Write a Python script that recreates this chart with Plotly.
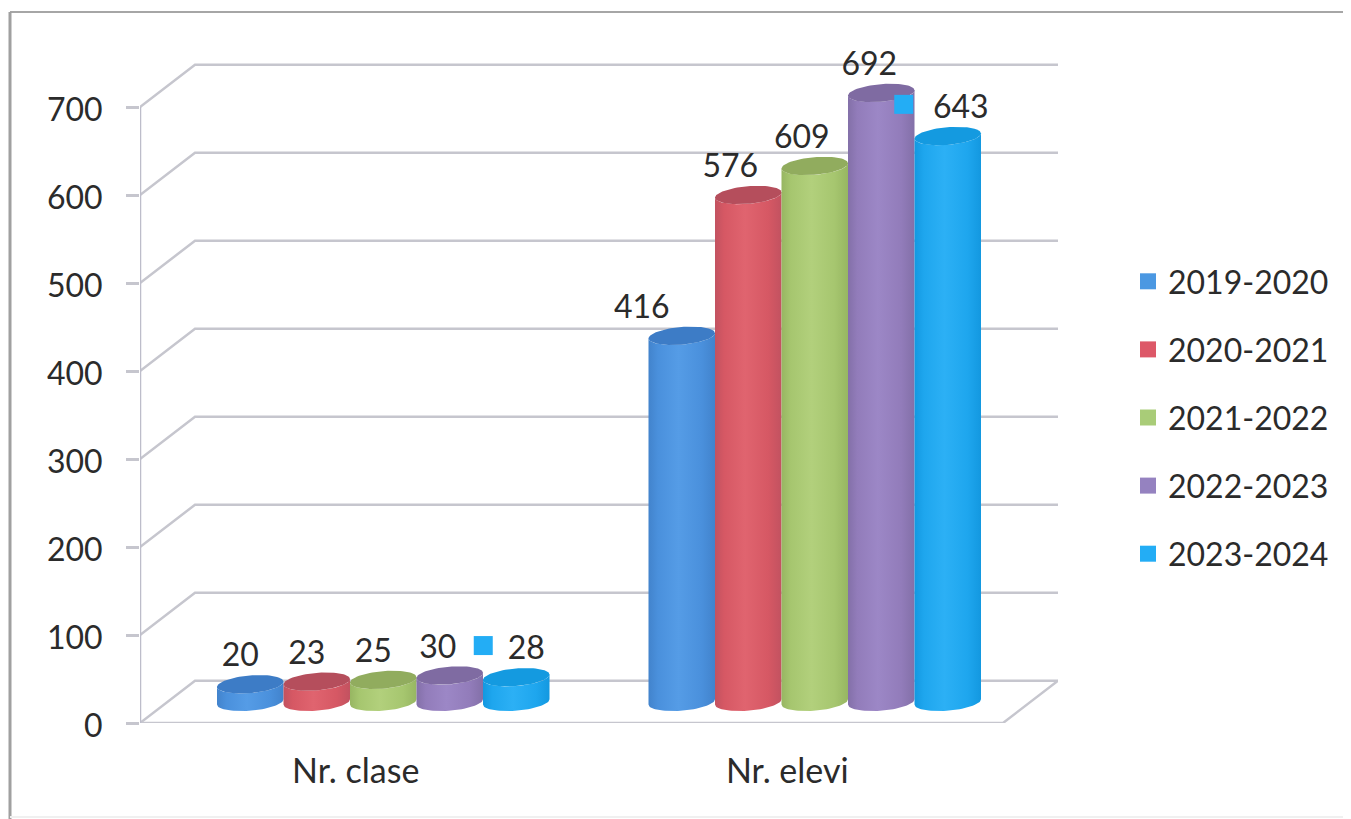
import numpy as np
import plotly.graph_objects as go

# ---------- data ----------
categories = ["Nr. clase", "Nr. elevi"]
series_names = ["2019-2020", "2020-2021", "2021-2022", "2022-2023", "2023-2024"]
values_2019_2020 = [20, 416]
values_2020_2021 = [23, 576]
values_2021_2022 = [25, 609]
values_2022_2023 = [30, 692]
values_2023_2024 = [28, 643]
y_ticks = [0, 100, 200, 300, 400, 500, 600, 700]

all_values = [values_2019_2020, values_2020_2021, values_2021_2022, values_2022_2023, values_2023_2024]

# ---------- style ----------
PAGE_W, PAGE_H = 1351, 819
OFF = 8                        # the page's body margin
W, H = PAGE_W - OFF, PAGE_H - OFF
ML, MR, MT, MB = 140 - OFF, 293, 63 - OFF, 96
PLOT_W, PLOT_H = W - ML - MR, H - MT - MB
PX_PER_CAT = 431.5
PX_PER_VAL = 0.88
DX = 55 / PX_PER_CAT          # depth of the pseudo-3D box, category units
DY = 48                        # depth, value units
BAR_W = 66.5 / PX_PER_CAT
RY = 10.0                      # ellipse half height, value units
TILT = 3.0                     # ellipse tilt, value units
LABEL_RISE = 53.5
FONT = "Lato, 'Open Sans', sans-serif"
TXT = "#2b2b2b"
GRID = "#c6c6ce"
AXIS = "#bdbdca"

dark = ["#4283cc", "#c25260", "#97b662", "#8370a8", "#1398e0"]
side = ["#4a90dc", "#d65864", "#a6c66f", "#927cba", "#1ea6ee"]
light = ["#559ce6", "#e0646f", "#b2d07c", "#9c87c6", "#2cb0f5"]
top = ["#3d7cc6", "#b54e5c", "#91ac5e", "#7f6ba2", "#149ae0"]
legend_col = ["#4b98e2", "#dd5868", "#a9cc78", "#9582c0", "#23adf5"]

# label x offsets from the bar centre, pixels [category][series]
label_dx_px = [[-10, -10, -10, -12, 10], [-40, -18, -13, -12, 13]]
# stray legend keys beside the last series' labels
stray_dx_px = [-33, -44]

fig = go.Figure()


def line(xs, ys, color=GRID, width=2.5):
    fig.add_trace(go.Scatter(x=xs, y=ys, mode="lines", line=dict(color=color, width=width),
                             showlegend=False, hoverinfo="skip"))


# walls and floor
x_end = len(categories)
for v in y_ticks:
    line([0, DX, x_end + DX], [v, v + DY, v + DY])
line([0, x_end, x_end + DX], [0, 0, DY])
line([0, 0], [0, y_ticks[-1]], AXIS, 2.5)
line([x_end, x_end], [0, -9], AXIS, 2)
line([0, 0], [0, -9], AXIS, 2)
line([1, 1], [0, -9], AXIS, 2)

# cylinders
theta_bottom = np.linspace(np.pi, 2 * np.pi, 40)
theta_top = np.linspace(0, np.pi, 40)
theta_full = np.linspace(0, 2 * np.pi, 80)
base_v = DY / 2
centre_off = (np.arange(len(series_names)) - 2) * BAR_W

for c in range(len(categories)):
    cc = c + 0.5 + DX / 2
    for s, vals in enumerate(all_values):
        cx = cc + centre_off[s]
        v_top = base_v + vals[c]
        rx = BAR_W / 2
        xs = np.r_[cx + rx * np.cos(theta_bottom), cx + rx * np.cos(theta_top)]
        ys = np.r_[base_v + RY * np.sin(theta_bottom) + TILT * np.cos(theta_bottom),
                   v_top + RY * np.sin(theta_top) * -1 + TILT * np.cos(theta_top)]
        fig.add_trace(go.Scatter(
            x=xs, y=ys, mode="lines", line=dict(width=0), fill="toself",
            fillgradient=dict(type="horizontal", colorscale=[
                [0, dark[s]], [0.14, side[s]], [0.45, light[s]], [0.8, side[s]], [1, dark[s]]]),
            showlegend=False, hoverinfo="skip"))
        fig.add_trace(go.Scatter(
            x=cx + rx * np.cos(theta_full),
            y=v_top + RY * np.sin(theta_full) + TILT * np.cos(theta_full),
            mode="lines", line=dict(width=0), fill="toself", fillcolor=top[s],
            showlegend=False, hoverinfo="skip"))

# value labels
for c in range(len(categories)):
    cc = c + 0.5 + DX / 2
    xs = [cc + centre_off[s] + label_dx_px[c][s] / PX_PER_CAT for s in range(5)]
    ys = [vals[c] + LABEL_RISE for vals in all_values]
    fig.add_trace(go.Scatter(x=xs, y=ys, mode="text", text=[str(v[c]) for v in all_values],
                             textposition="middle center", textfont=dict(family=FONT, size=32, color=TXT),
                             showlegend=False, hoverinfo="skip"))
    # stray key of the last series
    fig.add_trace(go.Scatter(x=[cc + centre_off[4] + stray_dx_px[c] / PX_PER_CAT],
                             y=[values_2023_2024[c] + 60], mode="markers",
                             marker=dict(symbol="square", size=19, color=legend_col[4]),
                             showlegend=False, hoverinfo="skip"))

# legend
for s, name in enumerate(series_names):
    fig.add_trace(go.Scatter(x=[None], y=[None], mode="markers", name=name, legendgroup=name,
                             marker=dict(symbol="square", size=20, color=legend_col[s])))


def fx(px):
    return (px - OFF - ML) / PLOT_W


def fy(px):
    return (H - MB - (px - OFF)) / PLOT_H


fig.update_layout(
    width=W, height=H, autosize=False,
    margin=dict(l=ML, r=MR, t=MT, b=MB, pad=0),
    paper_bgcolor="#ffffff", plot_bgcolor="rgba(0,0,0,0)",
    font=dict(family=FONT, size=32, color=TXT),
    legend=dict(x=fx(1128), xanchor="left", y=fy(254), yanchor="top",
                tracegroupgap=23.5, itemclick=False, itemdoubleclick=False,
                bgcolor="rgba(0,0,0,0)", font=dict(family=FONT, size=32, color=TXT)),
    xaxis=dict(range=[0, PLOT_W / PX_PER_CAT], tickvals=[i + 0.5 for i in range(len(categories))],
               ticktext=categories, ticks="", showgrid=False, zeroline=False, showline=False,
               tickfont=dict(family=FONT, size=34, color=TXT), ticklabelstandoff=25, fixedrange=True),
    yaxis=dict(range=[0, PLOT_H / PX_PER_VAL], tickvals=y_ticks, ticks="outside", ticklen=13, tickwidth=2.5,
               tickcolor=GRID, showgrid=False, zeroline=False, showline=False,
               tickfont=dict(family=FONT, size=32, color=TXT), ticklabelstandoff=17, ticklabelshift=3,
               fixedrange=True),
    shapes=[
        dict(type="line", xref="paper", yref="paper", x0=fx(10), x1=fx(1351), y0=fy(12), y1=fy(12),
             line=dict(color="#a6a6a6", width=2), layer="below"),
        dict(type="line", xref="paper", yref="paper", x0=fx(10), x1=fx(10), y0=fy(12), y1=fy(819),
             line=dict(color="#a0a0a0", width=3), layer="below"),
        dict(type="line", xref="paper", yref="paper", x0=fx(10), x1=fx(1351), y0=fy(817), y1=fy(817),
             line=dict(color="#f0f0f0", width=2), layer="below"),
    ],
)
fig.update_traces(cliponaxis=False)
fig.write_html("out.html", config={"displayModeBar": False})
